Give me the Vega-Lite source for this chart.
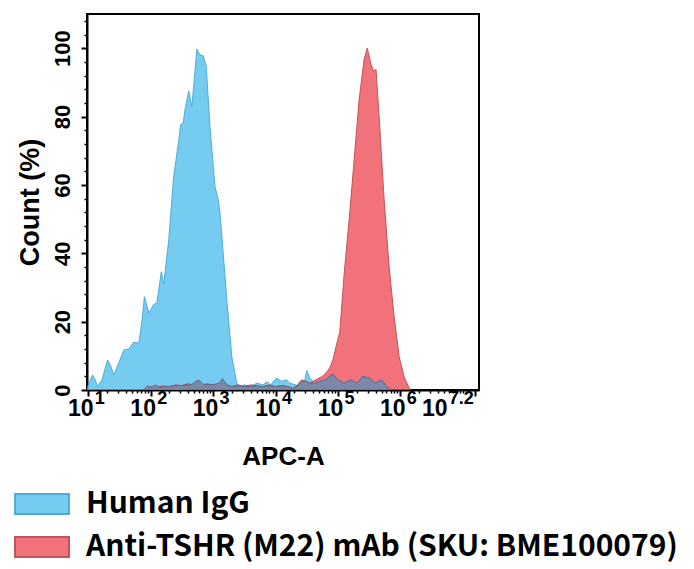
{
  "$schema": "https://vega.github.io/schema/vega-lite/v6.json",
  "width": 392,
  "height": 376,
  "autosize": {"type": "none"},
  "padding": {"left": 87, "top": 14, "right": 215, "bottom": 179},
  "background": "white",
  "config": {
    "view": {"stroke": "black", "strokeWidth": 2},
    "axis": {"grid": false, "domainColor": "black", "domainWidth": 2, "tickColor": "black", "tickWidth": 2, "labelColor": "black", "titleColor": "black", "labelFont": "Liberation Sans", "labelFontWeight": "bold"}
  },
  "datasets": {
    "hist": [
      {"series": "Human IgG", "apc": 9.55, "count": 0.5},
      {"series": "Human IgG", "apc": 10.5, "count": 2.5},
      {"series": "Human IgG", "apc": 11.7, "count": 4.4},
      {"series": "Human IgG", "apc": 12.9, "count": 3},
      {"series": "Human IgG", "apc": 14.1, "count": 1},
      {"series": "Human IgG", "apc": 16.6, "count": 3},
      {"series": "Human IgG", "apc": 20.4, "count": 8.8},
      {"series": "Human IgG", "apc": 22.9, "count": 7},
      {"series": "Human IgG", "apc": 25.7, "count": 4.4},
      {"series": "Human IgG", "apc": 30.9, "count": 8},
      {"series": "Human IgG", "apc": 37.2, "count": 11.7},
      {"series": "Human IgG", "apc": 44.7, "count": 12},
      {"series": "Human IgG", "apc": 53.7, "count": 14},
      {"series": "Human IgG", "apc": 64.6, "count": 13.7},
      {"series": "Human IgG", "apc": 72.4, "count": 20},
      {"series": "Human IgG", "apc": 79.4, "count": 27.3},
      {"series": "Human IgG", "apc": 93.3, "count": 22.5},
      {"series": "Human IgG", "apc": 112, "count": 25},
      {"series": "Human IgG", "apc": 126, "count": 25.5},
      {"series": "Human IgG", "apc": 148, "count": 34.6},
      {"series": "Human IgG", "apc": 162, "count": 31},
      {"series": "Human IgG", "apc": 195, "count": 44},
      {"series": "Human IgG", "apc": 234, "count": 62.5},
      {"series": "Human IgG", "apc": 282, "count": 73},
      {"series": "Human IgG", "apc": 302, "count": 77.7},
      {"series": "Human IgG", "apc": 331, "count": 78},
      {"series": "Human IgG", "apc": 355, "count": 82},
      {"series": "Human IgG", "apc": 407, "count": 87.5},
      {"series": "Human IgG", "apc": 457, "count": 83},
      {"series": "Human IgG", "apc": 550, "count": 99.7},
      {"series": "Human IgG", "apc": 617, "count": 98},
      {"series": "Human IgG", "apc": 692, "count": 97.8},
      {"series": "Human IgG", "apc": 776, "count": 94.7},
      {"series": "Human IgG", "apc": 891, "count": 77},
      {"series": "Human IgG", "apc": 1072, "count": 59.5},
      {"series": "Human IgG", "apc": 1202, "count": 56},
      {"series": "Human IgG", "apc": 1288, "count": 52},
      {"series": "Human IgG", "apc": 1660, "count": 26.4},
      {"series": "Human IgG", "apc": 1995, "count": 9.7},
      {"series": "Human IgG", "apc": 2399, "count": 2},
      {"series": "Human IgG", "apc": 2692, "count": 1},
      {"series": "Human IgG", "apc": 3162, "count": 1.5},
      {"series": "Human IgG", "apc": 3981, "count": 1},
      {"series": "Human IgG", "apc": 5012, "count": 2},
      {"series": "Human IgG", "apc": 6310, "count": 1.5},
      {"series": "Human IgG", "apc": 7244, "count": 2.4},
      {"series": "Human IgG", "apc": 8318, "count": 1.5},
      {"series": "Human IgG", "apc": 10471, "count": 3.5},
      {"series": "Human IgG", "apc": 12589, "count": 2.5},
      {"series": "Human IgG", "apc": 14791, "count": 3},
      {"series": "Human IgG", "apc": 16982, "count": 2},
      {"series": "Human IgG", "apc": 20893, "count": 1.5},
      {"series": "Human IgG", "apc": 25119, "count": 0.5},
      {"series": "Human IgG", "apc": 28840, "count": 2},
      {"series": "Human IgG", "apc": 31623, "count": 5.7},
      {"series": "Human IgG", "apc": 35481, "count": 3.5},
      {"series": "Human IgG", "apc": 41687, "count": 2},
      {"series": "Human IgG", "apc": 50119, "count": 2.5},
      {"series": "Human IgG", "apc": 63096, "count": 3},
      {"series": "Human IgG", "apc": 83176, "count": 4.7},
      {"series": "Human IgG", "apc": 100000, "count": 3},
      {"series": "Human IgG", "apc": 125893, "count": 2},
      {"series": "Human IgG", "apc": 158489, "count": 3},
      {"series": "Human IgG", "apc": 199526, "count": 2},
      {"series": "Human IgG", "apc": 251189, "count": 4},
      {"series": "Human IgG", "apc": 316228, "count": 3.5},
      {"series": "Human IgG", "apc": 398107, "count": 2},
      {"series": "Human IgG", "apc": 501187, "count": 3},
      {"series": "Human IgG", "apc": 602560, "count": 1},
      {"series": "Human IgG", "apc": 707946, "count": 0},
      {"series": "Anti-TSHR (M22) mAb (SKU: BME100079)", "apc": 79.4, "count": 0},
      {"series": "Anti-TSHR (M22) mAb (SKU: BME100079)", "apc": 100, "count": 1},
      {"series": "Anti-TSHR (M22) mAb (SKU: BME100079)", "apc": 126, "count": 0.8},
      {"series": "Anti-TSHR (M22) mAb (SKU: BME100079)", "apc": 158, "count": 1.2},
      {"series": "Anti-TSHR (M22) mAb (SKU: BME100079)", "apc": 200, "count": 1},
      {"series": "Anti-TSHR (M22) mAb (SKU: BME100079)", "apc": 251, "count": 1.5},
      {"series": "Anti-TSHR (M22) mAb (SKU: BME100079)", "apc": 316, "count": 1.3},
      {"series": "Anti-TSHR (M22) mAb (SKU: BME100079)", "apc": 398, "count": 1.8},
      {"series": "Anti-TSHR (M22) mAb (SKU: BME100079)", "apc": 501, "count": 1.5},
      {"series": "Anti-TSHR (M22) mAb (SKU: BME100079)", "apc": 550, "count": 2.7},
      {"series": "Anti-TSHR (M22) mAb (SKU: BME100079)", "apc": 631, "count": 1.5},
      {"series": "Anti-TSHR (M22) mAb (SKU: BME100079)", "apc": 794, "count": 1.8},
      {"series": "Anti-TSHR (M22) mAb (SKU: BME100079)", "apc": 1000, "count": 1.5},
      {"series": "Anti-TSHR (M22) mAb (SKU: BME100079)", "apc": 1259, "count": 2},
      {"series": "Anti-TSHR (M22) mAb (SKU: BME100079)", "apc": 1413, "count": 3.2},
      {"series": "Anti-TSHR (M22) mAb (SKU: BME100079)", "apc": 1660, "count": 1.5},
      {"series": "Anti-TSHR (M22) mAb (SKU: BME100079)", "apc": 1995, "count": 1},
      {"series": "Anti-TSHR (M22) mAb (SKU: BME100079)", "apc": 2512, "count": 1.5},
      {"series": "Anti-TSHR (M22) mAb (SKU: BME100079)", "apc": 3162, "count": 1},
      {"series": "Anti-TSHR (M22) mAb (SKU: BME100079)", "apc": 3981, "count": 1.5},
      {"series": "Anti-TSHR (M22) mAb (SKU: BME100079)", "apc": 5012, "count": 1.2},
      {"series": "Anti-TSHR (M22) mAb (SKU: BME100079)", "apc": 6310, "count": 1},
      {"series": "Anti-TSHR (M22) mAb (SKU: BME100079)", "apc": 7943, "count": 1.5},
      {"series": "Anti-TSHR (M22) mAb (SKU: BME100079)", "apc": 10000, "count": 1},
      {"series": "Anti-TSHR (M22) mAb (SKU: BME100079)", "apc": 12589, "count": 1.3},
      {"series": "Anti-TSHR (M22) mAb (SKU: BME100079)", "apc": 15849, "count": 1},
      {"series": "Anti-TSHR (M22) mAb (SKU: BME100079)", "apc": 19055, "count": 0.5},
      {"series": "Anti-TSHR (M22) mAb (SKU: BME100079)", "apc": 22387, "count": 1.5},
      {"series": "Anti-TSHR (M22) mAb (SKU: BME100079)", "apc": 26303, "count": 3},
      {"series": "Anti-TSHR (M22) mAb (SKU: BME100079)", "apc": 30903, "count": 2.5},
      {"series": "Anti-TSHR (M22) mAb (SKU: BME100079)", "apc": 35481, "count": 2},
      {"series": "Anti-TSHR (M22) mAb (SKU: BME100079)", "apc": 44668, "count": 3},
      {"series": "Anti-TSHR (M22) mAb (SKU: BME100079)", "apc": 56234, "count": 4},
      {"series": "Anti-TSHR (M22) mAb (SKU: BME100079)", "apc": 64565, "count": 5},
      {"series": "Anti-TSHR (M22) mAb (SKU: BME100079)", "apc": 74131, "count": 6.5},
      {"series": "Anti-TSHR (M22) mAb (SKU: BME100079)", "apc": 83176, "count": 8.8},
      {"series": "Anti-TSHR (M22) mAb (SKU: BME100079)", "apc": 93325, "count": 12.7},
      {"series": "Anti-TSHR (M22) mAb (SKU: BME100079)", "apc": 107152, "count": 17},
      {"series": "Anti-TSHR (M22) mAb (SKU: BME100079)", "apc": 125893, "count": 34},
      {"series": "Anti-TSHR (M22) mAb (SKU: BME100079)", "apc": 154882, "count": 52},
      {"series": "Anti-TSHR (M22) mAb (SKU: BME100079)", "apc": 181970, "count": 67.4},
      {"series": "Anti-TSHR (M22) mAb (SKU: BME100079)", "apc": 218776, "count": 85},
      {"series": "Anti-TSHR (M22) mAb (SKU: BME100079)", "apc": 263027, "count": 96.8},
      {"series": "Anti-TSHR (M22) mAb (SKU: BME100079)", "apc": 295121, "count": 100},
      {"series": "Anti-TSHR (M22) mAb (SKU: BME100079)", "apc": 338844, "count": 95.3},
      {"series": "Anti-TSHR (M22) mAb (SKU: BME100079)", "apc": 371535, "count": 93.3},
      {"series": "Anti-TSHR (M22) mAb (SKU: BME100079)", "apc": 407380, "count": 93.8},
      {"series": "Anti-TSHR (M22) mAb (SKU: BME100079)", "apc": 457088, "count": 80},
      {"series": "Anti-TSHR (M22) mAb (SKU: BME100079)", "apc": 549541, "count": 55.7},
      {"series": "Anti-TSHR (M22) mAb (SKU: BME100079)", "apc": 660693, "count": 36},
      {"series": "Anti-TSHR (M22) mAb (SKU: BME100079)", "apc": 794328, "count": 21.5},
      {"series": "Anti-TSHR (M22) mAb (SKU: BME100079)", "apc": 954993, "count": 9.8},
      {"series": "Anti-TSHR (M22) mAb (SKU: BME100079)", "apc": 1148154, "count": 3.9},
      {"series": "Anti-TSHR (M22) mAb (SKU: BME100079)", "apc": 1380384, "count": 0.6},
      {"series": "Anti-TSHR (M22) mAb (SKU: BME100079)", "apc": 1513561, "count": 0}
    ],
    "overlap": [
      {"apc": 75.9, "count": 0},
      {"apc": 89.1, "count": 1.2},
      {"apc": 100, "count": 0.8},
      {"apc": 120, "count": 1.5},
      {"apc": 141, "count": 0.7},
      {"apc": 178, "count": 1},
      {"apc": 251, "count": 1.2},
      {"apc": 355, "count": 1.4},
      {"apc": 447, "count": 1.5},
      {"apc": 525, "count": 2.5},
      {"apc": 603, "count": 2.8},
      {"apc": 708, "count": 1.5},
      {"apc": 1000, "count": 1.5},
      {"apc": 1259, "count": 2},
      {"apc": 1413, "count": 3.3},
      {"apc": 1660, "count": 1.5},
      {"apc": 1995, "count": 1},
      {"apc": 2512, "count": 1.2},
      {"apc": 3162, "count": 1},
      {"apc": 3981, "count": 1},
      {"apc": 5012, "count": 1.2},
      {"apc": 6310, "count": 1},
      {"apc": 7943, "count": 1.2},
      {"apc": 10000, "count": 1},
      {"apc": 12589, "count": 1.2},
      {"apc": 15849, "count": 1},
      {"apc": 19055, "count": 0.4},
      {"apc": 22387, "count": 1.2},
      {"apc": 26303, "count": 2.5},
      {"apc": 31623, "count": 2.5},
      {"apc": 35481, "count": 2},
      {"apc": 41687, "count": 2},
      {"apc": 50119, "count": 2.5},
      {"apc": 63096, "count": 3},
      {"apc": 83176, "count": 4.7},
      {"apc": 100000, "count": 3},
      {"apc": 125893, "count": 2},
      {"apc": 158489, "count": 3},
      {"apc": 199526, "count": 2},
      {"apc": 251189, "count": 4},
      {"apc": 316228, "count": 3.5},
      {"apc": 398107, "count": 2},
      {"apc": 501187, "count": 3},
      {"apc": 602560, "count": 1},
      {"apc": 707946, "count": 0}
    ]
  },
  "layer": [
    {
      "data": {"name": "hist"},
      "transform": [{"filter": "datum.series === 'Human IgG'"}],
      "mark": {"type": "area", "opacity": 0.85, "strokeWidth": 1, "clip": true},
      "encoding": {
        "x": {"field": "apc", "type": "quantitative",
          "scale": {"type": "log", "domain": [9.55, 18200000], "nice": false},
          "axis": {"orient": "bottom", "values": [10, 100, 1000, 10000, 100000, 1000000, 15848932],
            "labelExpr": "'10'",
            "labelOffset": {"condition": {"test": "datum.value > 10000000", "value": -41}, "value": -8},
            "labelFontSize": 23, "labelPadding": 1, "tickSize": 6, "labelFlush": false, "labelOverlap": false,
            "title": "APC-A", "titleFont": "Liberation Sans", "titleFontWeight": "bold", "titleFontSize": 26, "titlePadding": 23}},
        "y": {"field": "count", "type": "quantitative",
          "scale": {"domain": [0, 110], "nice": false},
          "axis": {"orient": "left", "values": [0, 20, 40, 60, 80, 100], "labelAngle": -90, "labelAlign": "center", "labelBaseline": "bottom",
            "labelFontSize": 22, "labelPadding": 7, "tickSize": 6, "labelOverlap": false,
            "title": "Count  (%)", "titleFont": "Liberation Sans", "titleFontWeight": "bold", "titleFontSize": 27, "titlePadding": 7}},
        "fill": {"field": "series", "type": "nominal",
          "scale": {"domain": ["Human IgG", "Anti-TSHR (M22) mAb (SKU: BME100079)"], "range": ["#5EC4EE", "#F05A66"]},
          "legend": {"orient": "none", "legendX": -73, "legendY": 462, "title": null, "direction": "vertical",
            "symbolType": "M-1,-0.37H1V0.37H-1Z", "symbolSize": 2916, "symbolOpacity": 1, "symbolStrokeColor": "#2B3F5C", "symbolStrokeWidth": 2,
            "labelFont": "Noto Sans CJK SC", "labelFontWeight": "bold", "labelFontSize": 30, "labelColor": "black", "labelOffset": 16, "rowPadding": -16, "labelLimit": 700}},
        "stroke": {"field": "series", "type": "nominal",
          "scale": {"domain": ["Human IgG", "Anti-TSHR (M22) mAb (SKU: BME100079)"], "range": ["#2E9FD0", "#B8343F"]},
          "legend": null}
      }
    },
    {
      "data": {"name": "hist"},
      "transform": [{"filter": "datum.series !== 'Human IgG'"}],
      "mark": {"type": "area", "opacity": 0.85, "strokeWidth": 1, "clip": true},
      "encoding": {
        "x": {"field": "apc", "type": "quantitative",
          "axis": {"orient": "bottom", "values": [10, 100, 1000, 10000, 100000, 1000000, 15848932],
            "labelExpr": "datum.value > 10000000 ? '7.2' : format(log(datum.value) / LN10, '.0f')",
            "labelAlign": "left",
            "labelOffset": {"condition": {"test": "datum.value > 10000000", "value": -27}, "value": 6},
            "labelFontSize": 18, "labelPadding": -1, "ticks": false, "domain": false, "labelFlush": false, "labelOverlap": false, "title": null}},
        "y": {"field": "count", "type": "quantitative", "axis": null},
        "fill": {"field": "series", "type": "nominal"},
        "stroke": {"field": "series", "type": "nominal", "legend": null}
      }
    },
    {
      "data": {"name": "overlap"},
      "mark": {"type": "area", "fill": "#7B88A8", "stroke": "#5E6B8C", "strokeWidth": 1, "clip": true},
      "encoding": {
        "x": {"field": "apc", "type": "quantitative",
          "axis": {"orient": "bottom", "values": [20,30,40,50,60,70,80,90,200,300,400,500,600,700,800,900,2000,3000,4000,5000,6000,7000,8000,9000,20000,30000,40000,50000,60000,70000,80000,90000,200000,300000,400000,500000,600000,700000,800000,900000,2000000,3000000,4000000,5000000,6000000,7000000,8000000,9000000,10000000],
            "labels": false, "domain": false, "tickSize": 3, "tickWidth": 1.5, "title": null}},
        "y": {"field": "count", "type": "quantitative",
          "axis": {"orient": "left", "values": [4,8,12,16,24,28,32,36,44,48,52,56,64,68,72,76,84,88,92,96,104,108],
            "labels": false, "domain": false, "tickSize": 3, "tickWidth": 1.5, "title": null}}
      }
    }
  ],
  "resolve": {"axis": {"x": "independent", "y": "independent"}}
}
